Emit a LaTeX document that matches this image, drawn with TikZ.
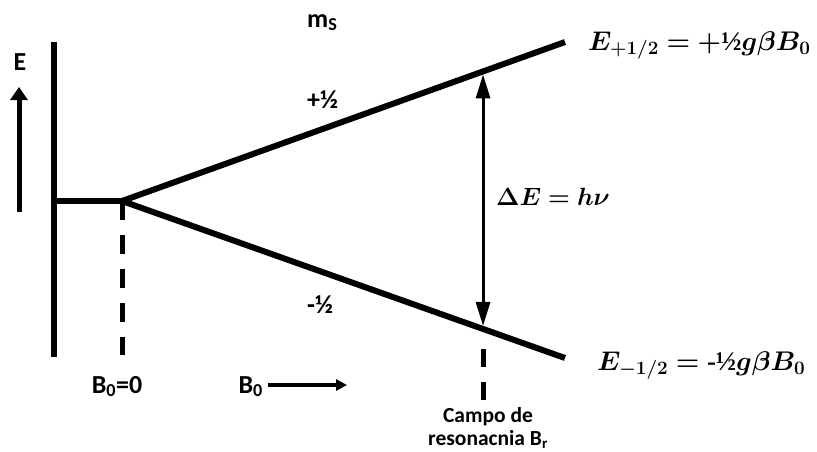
\RequirePackage{fix-cm}
\documentclass[tikz,border=0pt]{standalone}
\usepackage{amsmath}
\usepackage{bm}
\usepackage{fontspec}
\setmainfont{Carlito}
\newfontfamily\halffont{Liberation Serif}
\usetikzlibrary{positioning,calc,arrows.meta}

\begin{document}
\begin{tikzpicture}[x=1pt,y=-1pt,
    level/.style={line width=6pt},
    guide/.style={line width=5pt,dash pattern=on 19pt off 15pt},
    lbl/.style={font=\fontsize{26}{30}\selectfont\bfseries,inner sep=0pt},
    small/.style={font=\fontsize{21.5}{23}\selectfont\bfseries,inner sep=0pt,align=center},
    eqn/.style={font=\fontsize{27}{31}\selectfont,inner sep=0pt}]
\useasboundingbox (0,0) rectangle (817,451);

% energy axis and zero-field level
\coordinate (axtop) at (54,42);
\coordinate (axbot) at (54,357);
\coordinate (axmid) at (51,201);
\coordinate (zero) at (122,201);
\coordinate (up) at (565,42);
\coordinate (lo) at (565,358);
\draw[level] (axtop) -- (axbot);
\draw[level] (axmid) -- (zero);

% Zeeman split levels
\draw[level] (zero) -- (up);
\draw[level] (zero) -- (lo);

% dashed guides
\coordinate (zerofoot) at (122,355);
\draw[guide] (zero) -- (zerofoot);
\coordinate (resup) at ($(zero)!0.815!(up)$);
\coordinate (res) at ($(zero)!0.815!(lo)$);
\coordinate (reshead) at (483,349);
\coordinate (resfoot) at (483,402);
\draw[guide,dash pattern=on 18pt off 15pt] (reshead) -- (resfoot);

% transition arrow
\draw[{Triangle[length=24pt,width=14pt]}-{Triangle[length=24pt,width=14pt]},line width=3pt,
    shorten <=3pt,shorten >=3pt] (resup) -- (res);
\node[eqn,anchor=base west,font=\fontsize{25}{29}\selectfont] (dE) at (496,205) {$\bm{\Delta E = h\nu}$};

% E arrow
\coordinate (Ebot) at (19,212);
\coordinate (Etop) at (19,87);
\draw[-{Triangle[length=13pt,width=17pt]},line width=5pt] (Ebot) -- (Etop);
\node[lbl,anchor=base] (Elbl) at (20,70) {E};

% spin labels
\node[lbl,anchor=base west] (ms) at (307,27) {m\textsubscript{S}};
\node[lbl,anchor=base west] (plus) at (307,108) {+½};
\node[lbl,anchor=base west] (minus) at (307,313) {-½};

% energies
\node[eqn,anchor=base west] (Eup) at (588,50) {$\bm{E_{+1/2} = +}\text{\halffont\bfseries ½}\bm{g\beta B_0}$};
\node[eqn,anchor=base west] (Elo) at (597,370) {$\bm{E_{-1/2} = }\text{\halffont\bfseries -½}\bm{g\beta B_0}$};

% field labels
\node[lbl,anchor=base] (B0zero) at (117,393) {B\textsubscript{0}=0};
\node[lbl,anchor=base east] (B0) at (263,393) {B\textsubscript{0}};
\coordinate (Bstart) at (268,385);
\coordinate (Bend) at (347,385);
\draw[-{Triangle[length=11pt,width=11pt]},line width=4pt] (Bstart) -- (Bend);
\node[small,anchor=base] (campo) at (488,445) {Campo de\\resonacnia B\textsubscript{r}};
\end{tikzpicture}
\end{document}
